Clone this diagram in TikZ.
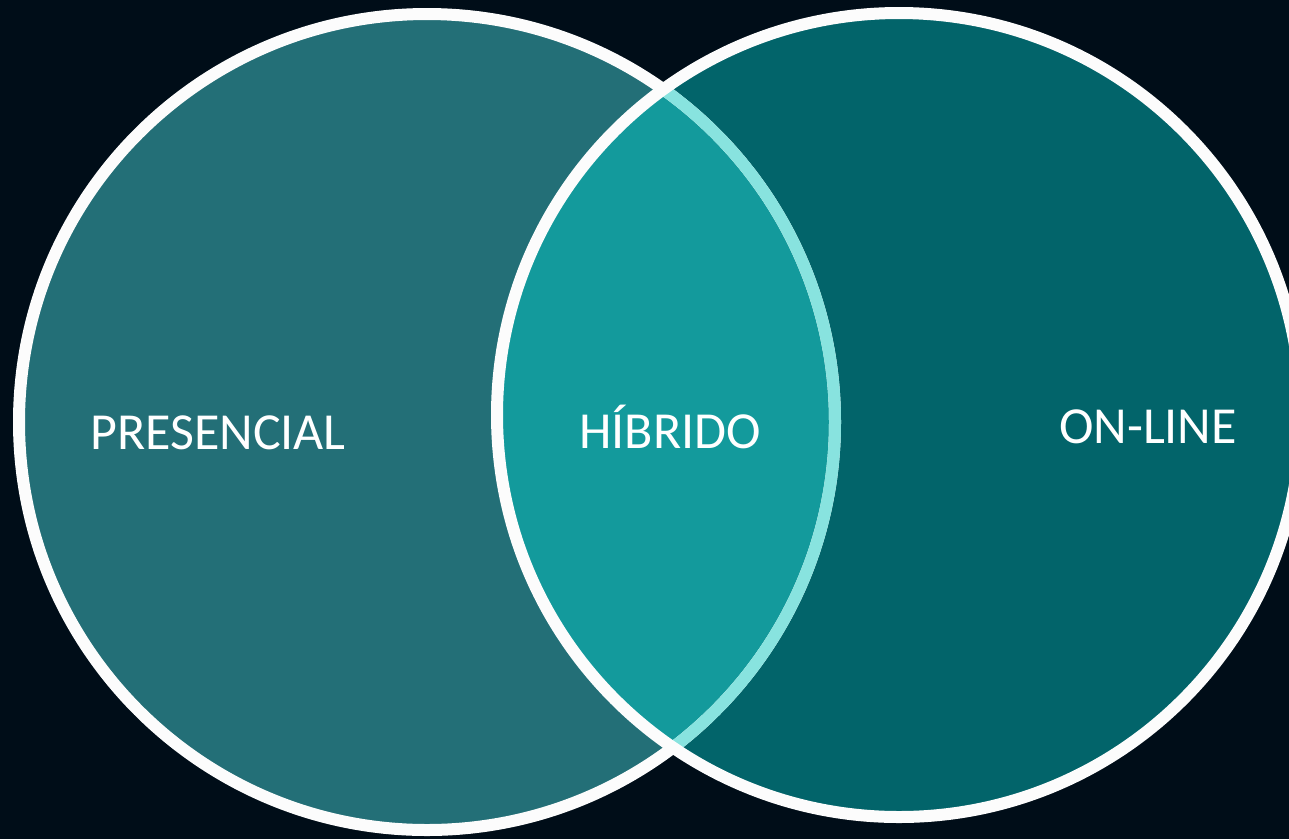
\documentclass[tikz,border=0pt]{standalone}
\usepackage{fontspec}
\setmainfont{Carlito}
\definecolor{bgc}{HTML}{000D18}
\definecolor{leftc}{HTML}{236F77}
\definecolor{rightc}{HTML}{02646A}
\definecolor{midc}{HTML}{139A9C}
\definecolor{cyanc}{HTML}{88E3DF}
\definecolor{ringc}{HTML}{FCFCFC}
\tikzset{
  ring/.style={line width=12pt},
  label/.style={text=white, font=\fontsize{52}{60}\selectfont, anchor=base, inner sep=0pt}
}
\begin{document}
\begin{tikzpicture}[x=1pt,y=-1pt]
\useasboundingbox (0,0) rectangle (1289,839);
\fill[bgc] (0,0) rectangle (1289,839);
\coordinate (cl) at (427,422);
\coordinate (cr) at (899,415);
\fill[leftc] (cl) circle[radius=408pt];
\fill[rightc] (cr) circle[radius=402pt];
\begin{scope}
  \clip (cl) circle[radius=408pt];
  \fill[midc] (cr) circle[radius=402pt];
\end{scope}
\draw[ring, ringc] (cl) circle[radius=408pt];
\begin{scope}
  \clip (cr) circle[radius=402pt];
  \draw[ring, cyanc] (cl) circle[radius=408pt];
\end{scope}
\draw[ring, ringc] (cr) circle[radius=402pt];
\node[label] (pres) at (218,449) {PRESENCIAL};
\node[label] (hib) at (670,448) {HÍBRIDO};
\node[label] (onl) at (1148,443) {ON-LINE};
\end{tikzpicture}
\end{document}
